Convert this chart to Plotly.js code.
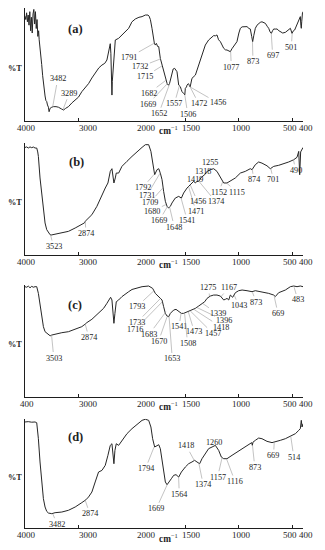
<!DOCTYPE html>
<html><head><meta charset="utf-8">
<script src="https://cdn.plot.ly/plotly-3.0.1.min.js"></script>
<style>html,body{margin:0;padding:0;background:#fff}#chart{width:325px;height:550px}</style>
</head><body><div id="chart"></div>
<script>
// ---------- DATA (wavenumber cm-1, transmittance %T) ----------
const wnA=[4000,3985,3970,3955,3940,3925,3910,3895,3880,3865,3850,3835,3820,3805,3790,3775,3760,3745,3735,3719,3705,3688,3670,3656,3640,3625,3610,3594,3580,3562,3550,3531,3500,3469,3420,3375,3320,3281,3240,3188,3120,3062,3000,2938,2870,2812,2750,2688,2620,2562,2510,2469,2440,2425,2406,2395,2388,2380,2375,2368,2356,2345,2338,2325,2312,2250,2188,2120,2062,2000,1969,1935,1906,1875,1850,1840,1828,1813,1797,1791,1782,1772,1760,1750,1735,1719,1706,1694,1682,1672,1665,1657,1649,1641,1626,1615,1601,1590,1579,1563,1557,1548,1540,1532,1517,1506,1501,1490,1485,1472,1456,1439,1407,1376,1345,1314,1283,1260,1236,1220,1205,1190,1173,1142,1125,1111,1095,1080,1065,1049,1018,1000,986,970,955,940,924,905,893,880,871,860,846,830,815,800,784,770,752,735,721,708,696,685,674,660,643,625,612,590,565,550,534,518,503,490,478,465,456,440,430,425,420,416,412,409,405,400];
const tA=[93,90,96,88,94,85,97,80,92,78,95,99,86,97,82,90,75,80,72,62,55,50,40,32,24,22,18,17,14,12,8,11,12,12.5,12.5,12,10.5,9.5,11,12.5,16,18.4,21,25.8,30,33,38,42.6,47,49.5,51,54,62,67,68.5,60,52,30,22.8,35,43.6,50,55.5,66,71.8,73.3,76.3,80,82.2,88,90.5,92,92.6,94,94,93,90,82.2,71.8,69,67.3,68.8,66,65.9,55.5,49.5,45,40.6,36,33.2,32,31.7,33,36.2,43.6,46,46.6,45,43.6,31.7,31,30.3,28,25.8,24.3,23,28.8,30,31.7,33,30,37.7,40.6,49.5,58.4,67.3,71.8,74,75.7,75.5,76.3,72,70.3,64.4,63,62.9,62,61.4,64,65.9,70.3,78,82.2,83.5,83.7,83.5,83.7,82,81.6,75,70.3,76,82.2,85,86.6,87.5,88,87.5,86.6,84,82.2,79,77.7,80,81.6,81.5,81.6,80,79.2,78,78.6,80,81.6,82.2,77.7,80,80.7,84,86.6,89.6,92,92.6,85,82.2,88,94,96,97];

const wnB=[4000,3969,3938,3906,3875,3844,3812,3781,3762,3750,3719,3688,3656,3625,3594,3562,3531,3512,3438,3312,3188,3062,2938,2888,2875,2862,2844,2750,2656,2562,2500,2450,2406,2375,2356,2338,2312,2294,2250,2188,2094,2000,1953,1906,1875,1844,1823,1807,1788,1766,1750,1735,1719,1704,1688,1672,1657,1641,1626,1595,1563,1538,1517,1485,1454,1423,1407,1392,1376,1351,1320,1298,1267,1236,1205,1173,1142,1111,1080,1033,986,940,893,877,846,815,784,737,706,674,628,581,534,487,456,440,431,422,409,400];
const tB=[96,96.5,95.5,96.5,95.8,96.4,95.5,95.5,92,88,68.7,53.7,38.8,28.4,22.4,19.4,17.9,17.6,18.5,19.4,20.9,23.9,26.9,28.5,29.9,30.5,31.3,35.8,43.3,53.7,59.7,64.2,74.6,77,71.6,64.2,68.7,73.1,73.1,79.1,83.6,88,92.5,96.1,98.5,98.5,92.5,80.6,71.6,76.1,77,73.1,67.2,56.7,47.8,43.3,41.8,43.3,46.3,50.7,52.2,50.7,55.2,59.7,62.7,65.7,64.2,65.7,65.7,69.3,71.6,74.6,76.1,77,74.6,68.7,64.2,64.2,65.7,68.7,73.1,74.6,77,76.1,80.6,83,82,79.6,77,79.1,80,81.2,83,85,87.2,92.5,71.6,92,95.5,96];

const wnC=[4000,3969,3938,3906,3875,3844,3812,3781,3750,3719,3688,3656,3625,3594,3562,3530,3500,3438,3312,3188,3062,2938,2875,2844,2750,2625,2531,2469,2425,2400,2375,2356,2338,2319,2294,2250,2188,2062,2000,1969,1906,1844,1807,1782,1757,1735,1719,1704,1688,1672,1657,1641,1610,1588,1563,1538,1517,1501,1470,1454,1439,1407,1376,1345,1320,1298,1267,1236,1205,1173,1158,1142,1126,1111,1095,1080,1058,1033,1002,970,924,877,846,784,721,674,659,628,565,518,487,456,425,400];
const tC=[98.5,98,99,97.5,98.8,98,98.5,98.5,92.5,82,71.6,62.7,58.2,56.7,55.2,54.5,55.2,56.1,57.3,58.2,60.3,62.7,65,66.3,69.3,74.6,79.1,83.6,88,89,86.6,74.6,65.7,74.6,85,86.6,89.6,94,96,97,98.5,99.1,97,92.5,90,88,86.6,80.6,74.6,72.2,71.6,74.6,77.6,78.2,76.1,74.6,74.6,75.2,76.1,77,77.6,79.1,81.2,83,85,88,90.1,91,91,90.1,88,86.6,87.2,88,86.6,91,89,93.1,94.9,95.5,94.9,94,94.9,94,92.5,91,89.6,93.1,95.5,98.5,99.1,98.5,99.1,98.5];

const wnD=[4000,3938,3875,3812,3781,3750,3719,3688,3656,3625,3594,3562,3500,3438,3312,3188,3062,2938,2875,2862,2812,2750,2688,2625,2562,2500,2450,2406,2375,2356,2338,2319,2294,2250,2188,2094,2000,1953,1906,1875,1844,1823,1807,1788,1766,1750,1735,1719,1704,1688,1672,1657,1632,1610,1588,1563,1538,1501,1470,1439,1414,1392,1367,1345,1314,1283,1251,1220,1189,1164,1142,1111,1064,1018,971,924,880,874,868,846,815,784,737,690,659,612,565,534,515,503,471,440,425,416,409,400];
const tD=[97,97.3,96.8,97,96.3,81.7,60.4,42.1,26.8,19.2,15.2,13.7,13.1,14,14.6,16.2,19.2,23.2,25.3,25.8,28.4,32.9,42.1,51.2,52.7,57.3,66.5,75.6,77.1,69.5,58.8,71,77.1,75.6,80.2,86.3,90.9,94.5,98.5,99.5,98.5,92.4,81.7,74.1,75.6,76.2,72.6,63.4,51.2,42.1,39.6,42.1,45.1,48.2,48.8,46.6,51.2,55.8,58.8,60.4,61.9,60.4,58.8,63.4,68,72.6,74.1,75.6,71,64.9,63.4,63.4,66.5,69.5,72.6,75.6,78.1,75.6,78.5,80.2,82.3,81.7,79.3,78.1,78.7,80.2,81.7,83.2,83.5,84.8,86.3,89.3,90.9,98.5,92.4,95.4];

// panel letters and axis tick labels
const panelLetters=['(a)','(b)','(c)','(d)'];
const tickTextA=['4000','3000','2000','1500','1000','500','400'];
const tickTextB=['4000','3000','2000','1500','1000','500','400'];
const tickTextC=['400','3000','2000','1500','1000','500','400'];
const tickTextD=['4000','3000','2000','1500','1000','500','400'];
const tickValsHigh=[4000,3000,2000];
const tickValsLow=[1500,1000,500,400];

// peak labels (wavenumber text) and %T at the curve point the leader points to
const peaksA=['3482','3289','1791','1732','1715','1682','1669','1652','1557','1506','1472','1456','1077','873','697','501'];
const peakTA=[12.5,10,69,55,49,36,33,31.7,31,23,33,30,61.4,70.3,77.7,78];
const peaksB=['3523','2874','1792','1731','1709','1680','1669','1648','1541','1471','1456','1374','1419','1318','1255','1152','1115','874','701','490'];
const peakTB=[17.8,30,72,74,60,45,43,42.5,50.7,61,62.7,65.7,65,72,77,65,64.2,76,77,85.5];
const peaksC=['3503','2874','1793','1733','1716','1683','1670','1653','1541','1508','1473','1457','1418','1396','1339','1275','1167','1043','873','669','483'];
const peakTC=[55,65,95,88,85,76,72,71.6,74.6,74.6,76,77,78,80,83.5,90,89.5,91,93.5,89.6,98];
const peaksD=['3482','2874','1794','1669','1564','1418','1374','1260','1157','1116','873','669','514'];
const peakTD=[13,25.3,74,40,46.6,61.9,59,74,64.5,63.4,76,78.7,83.5];

// ---------- LAYOUT POSITIONS (pixels) ----------
const labelPosA=[[57.7,79],[69.3,93.3],[129.3,57.3],[140.3,66.7],[144.7,76.7],[148.7,93.3],[148,104.3],[158.7,113.7],[174.3,103.7],[187.7,114],[198.7,103.7],[218,103],[231.3,67],[253,61.7],[272.7,55.7],[291.3,47.3]];
const labelPosB=[[53.5,246.5],[86,233.5],[142.5,187.7],[147,195.2],[150,202.3],[152.3,211.2],[159.3,220.4],[174.3,227],[187.2,220.4],[196,211.5],[197.7,202],[216,202],[195,180],[203,171.8],[210.2,162.2],[218.5,192.3],[237.2,192.3],[253.8,179.8],[273.3,179.8],[295.6,170.3]];
const labelPosC=[[53.8,358],[88.8,337.5],[136.8,306.7],[136.8,322.5],[135.2,329.5],[149.3,334.2],[158.5,341.4],[172.3,359],[179,327],[187.6,343.3],[194.3,331.8],[213.2,333.7],[221.5,327.3],[224.3,320.7],[217.6,313.8],[208.5,287.5],[228.7,287.5],[238.5,305.6],[256.2,302.2],[278,313.6],[297.8,300]];
const labelPosD=[[57.2,524.2],[89.8,513.8],[145.5,468.6],[156.2,508.8],[179.3,494.3],[186.3,445.8],[203.2,484.7],[213.5,442.5],[217.6,477.2],[235,481.5],[254.8,467.3],[273.5,455.5],[293.8,457.2]];
const letterPos=[[75.6,29.5],[76.5,161.8],[75,305],[75.2,436.8]];
const tickLabelX=[26.7,88,146,191.5,241.5,290,306];

const W=325,H=550,ML=25,MR=22,PW=W-ML-MR,XSPLIT=107;
const PT=[8.3,143,285,418.7], PB=[120.7,254.7,396.7,528];
const FONT='Liberation Serif, Times New Roman, serif';
const INK='#1e1e1e';

function pxOfWn(w){return w>=2000? ML+(4000-w)*XSPLIT/2000 : ML+XSPLIT+(2000-w)*(PW-XSPLIT)/1600;}
function pyOfT(t,i){return PB[i]-t/100*(PB[i]-PT[i]);}
function paperX(px){return (px-ML)/PW;}
function paperY(py){return 1-py/H;}
function axKey(p,n){return p+'axis'+(n===1?'':n);}
function axRef(p,n){return p+(n===1?'':n);}

const panels=[
  {wn:wnA,t:tA,peaks:peaksA,peakT:peakTA,pos:labelPosA,ticks:tickTextA},
  {wn:wnB,t:tB,peaks:peaksB,peakT:peakTB,pos:labelPosB,ticks:tickTextB},
  {wn:wnC,t:tC,peaks:peaksC,peakT:peakTC,pos:labelPosC,ticks:tickTextC},
  {wn:wnD,t:tD,peaks:peaksD,peakT:peakTD,pos:labelPosD,ticks:tickTextD}
];

const split=XSPLIT/PW;
const traces=[], annotations=[];
const layout={width:W,height:H,margin:{l:ML,r:MR,t:0,b:0,pad:0},showlegend:false,
  paper_bgcolor:'#fff',plot_bgcolor:'#fff',font:{family:FONT,color:INK}};

panels.forEach((p,i)=>{
  const xa=2*i+1, xb=2*i+2, yn=i+1;
  const common={showgrid:false,zeroline:false,showline:true,linecolor:INK,linewidth:1,
    ticks:'inside',ticklen:3,tickwidth:1,tickcolor:INK,showticklabels:false,fixedrange:true};
  layout[axKey('x',xa)]=Object.assign({},common,{domain:[0,split],range:[4000,2000],tickmode:'array',tickvals:tickValsHigh,anchor:axRef('y',yn)});
  layout[axKey('x',xb)]=Object.assign({},common,{domain:[split,1],range:[2000,400],tickmode:'array',tickvals:tickValsLow,anchor:axRef('y',yn)});
  layout[axKey('y',yn)]={domain:[paperY(PB[i]),paperY(PT[i])],range:[0,100],anchor:axRef('x',xa),
    showgrid:false,zeroline:false,showline:true,linecolor:INK,linewidth:1,ticks:'',showticklabels:false,fixedrange:true};

  const hiW=[],hiT=[],loW=[],loT=[];
  p.wn.forEach((w,k)=>{ if(w>=2000){hiW.push(w);hiT.push(p.t[k]);} if(w<=2000){loW.push(w);loT.push(p.t[k]);} });
  const ln={color:'#262626',width:1};
  traces.push({x:hiW,y:hiT,xaxis:axRef('x',xa),yaxis:axRef('y',yn),mode:'lines',line:ln,hoverinfo:'skip'});
  traces.push({x:loW,y:loT,xaxis:axRef('x',xb),yaxis:axRef('y',yn),mode:'lines',line:ln,hoverinfo:'skip'});

  // tick labels
  p.ticks.forEach((txt,k)=>{
    annotations.push({text:txt,xref:'paper',yref:'paper',x:paperX(tickLabelX[k]),y:paperY(PB[i]+7.3),
      xanchor:'center',yanchor:'middle',showarrow:false,font:{family:FONT,size:9,color:INK}});
  });
  annotations.push({text:'<b>cm</b><sup>−1</sup>',xref:'paper',yref:'paper',x:paperX(168),y:paperY(PB[i]+9.5),
    xanchor:'center',yanchor:'middle',showarrow:false,font:{family:FONT,size:9.3,color:INK}});
  // %T
  annotations.push({text:'<b>%T</b>',xref:'paper',yref:'paper',x:paperX(15),y:paperY((PT[i]+PB[i])/2+4),
    xanchor:'center',yanchor:'middle',showarrow:false,font:{family:FONT,size:8.3,color:INK}});
  // panel letter
  annotations.push({text:'<b>'+panelLetters[i]+'</b>',xref:'paper',yref:'paper',x:paperX(letterPos[i][0]),y:paperY(letterPos[i][1]),
    xanchor:'center',yanchor:'middle',showarrow:false,font:{family:FONT,size:12.5,color:INK}});
  // peak labels with leader lines
  p.peaks.forEach((txt,k)=>{
    const w=Number(txt), tt=p.peakT[k];
    const [lx,ly]=p.pos[k];
    annotations.push({text:txt,x:w,y:tt,xref:axRef('x',w>=2000?xa:xb),yref:axRef('y',yn),
      ax:lx-pxOfWn(w),ay:ly-pyOfT(tt,i),axref:'pixel',ayref:'pixel',
      showarrow:true,arrowhead:0,arrowwidth:0.6,arrowcolor:'#9a9a9a',standoff:0,
      font:{family:FONT,size:8.2,color:INK}});
  });
});
layout.annotations=annotations;
Plotly.newPlot('chart',traces,layout,{staticPlot:true,displayModeBar:false});
</script>
</body></html>
